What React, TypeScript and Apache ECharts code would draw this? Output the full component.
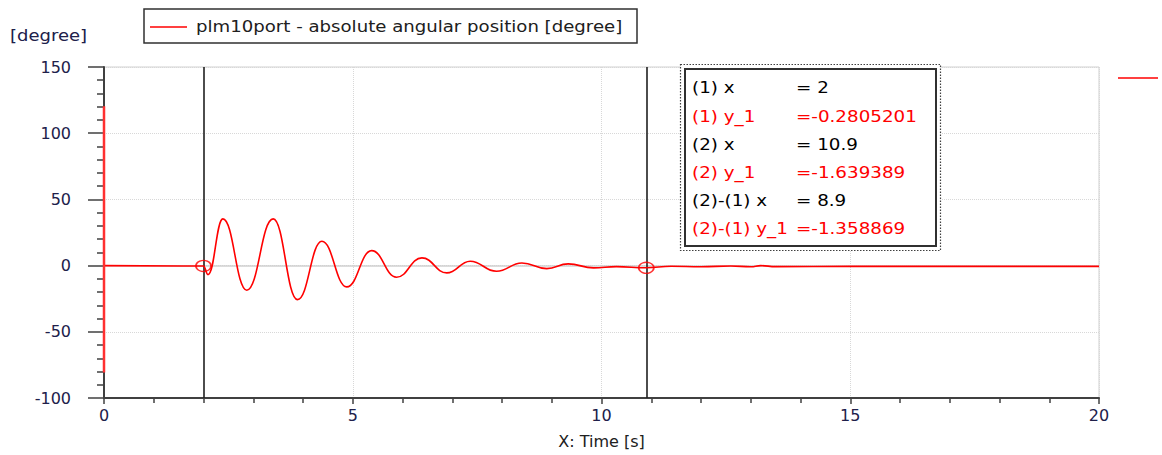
import React, { useEffect, useRef } from "react";
import * as echarts from "echarts";

const SERIES_NAME = "plm10port - absolute angular position [degree]";
const Y_UNIT = "[degree]";
const X_NAME = "X: Time [s]";

// time [s] and angle [degree]
const TIME = [0, 2, 2.09, 2.39, 2.87, 3.4, 3.89, 4.38, 4.88, 5.38, 5.88, 6.39, 6.89, 7.36, 7.89, 8.4, 8.9, 9.33, 9.84, 10.3, 10.9, 11.4, 12.0, 12.6, 13.0, 13.2, 13.5, 15.0, 20.0];
const ANGLE = [0, -0.28, -6.8, 35.3, -18.6, 35.3, -25.7, 18.4, -16.1, 11.3, -8.8, 5.8, -5.5, 3.3, -4.3, 2.0, -2.3, 1.3, -1.7, -0.8, -1.64, -0.5, -0.9, -0.3, -0.9, 0.0, -0.8, -0.6, -0.6];

// initial spike at t = 0 (red segment on the y axis)
const SPIKE_TIME = [0, 0];
const SPIKE_ANGLE = [120.3, -80.8];

// cursors
const CURSOR_X = [2, 10.9];
const CURSOR_Y = [-0.2805201, -1.639389];
const DIFF_X = "8.9";
const DIFF_Y = "-1.358869";

const INFO_LABELS = ["(1) x", "(1) y_1", "(2) x", "(2) y_1", "(2)-(1) x", "(2)-(1) y_1"];
const INFO_VALUES = [
  "= " + CURSOR_X[0],
  "=" + CURSOR_Y[0],
  "= " + CURSOR_X[1],
  "=" + CURSOR_Y[1],
  "= " + DIFF_X,
  "=" + DIFF_Y,
];
const INFO_RED = [false, true, false, true, false, true];

const X_MIN = 0, X_MAX = 20, X_INT = 5;
const Y_MIN = -100, Y_MAX = 150, Y_INT = 50;

const FONT = "DejaVu Sans";
const LABEL_COLOR = "#20204a";

export default function App() {
  const ref = useRef<HTMLDivElement>(null);
  useEffect(() => {
    document.body.style.margin = "0";
    const chart = echarts.init(ref.current!, null, { renderer: "svg" });
    const main = TIME.map((t, i) => [t, ANGLE[i]]);
    const spike = SPIKE_TIME.map((t, i) => [t, SPIKE_ANGLE[i]]);
    const cursors = CURSOR_X.map((x, i) => [x, CURSOR_Y[i]]);

    const infoTexts: any[] = [];
    INFO_LABELS.forEach((lab, i) => {
      const y = 88 + i * 28.2;
      const col = INFO_RED[i] ? "#ff0000" : "#000000";
      infoTexts.push({
        type: "text",
        x: 692,
        y,
        z: 110,
        scaleX: 1.22,
        style: { text: lab, fill: col, font: `15px "${FONT}"`, textVerticalAlign: "middle" },
      });
      infoTexts.push({
        type: "text",
        x: 796,
        y,
        z: 110,
        scaleX: 1.22,
        style: { text: INFO_VALUES[i], fill: col, font: `15px "${FONT}"`, textVerticalAlign: "middle" },
      });
    });

    chart.setOption({
      animation: false,
      backgroundColor: "#ffffff",
      textStyle: { fontFamily: FONT },
      grid: {
        left: 104,
        top: 67,
        right: 63,
        bottom: 57,
        show: true,
        borderColor: "#d0d0d0",
        borderWidth: 1,
        backgroundColor: "transparent",
      },
      xAxis: {
        type: "value",
        min: X_MIN,
        max: X_MAX,
        interval: X_INT,
        name: X_NAME,
        nameLocation: "middle",
        nameGap: 35,
        nameTextStyle: { color: "#202020", fontSize: 16, fontFamily: FONT },
        axisLine: { show: true, onZero: false, lineStyle: { color: "#404040", width: 2 } },
        axisTick: { show: true, length: 6, lineStyle: { color: "#404040", width: 1.5 } },
        minorTick: { show: true, splitNumber: 5, length: 5, lineStyle: { color: "#404040", width: 1.5 } },
        axisLabel: { color: LABEL_COLOR, fontSize: 16, margin: 9, fontFamily: FONT },
        splitLine: { show: true, lineStyle: { color: "#d8d8d8", type: "dotted", width: 1 } },
      },
      yAxis: {
        type: "value",
        min: Y_MIN,
        max: Y_MAX,
        interval: Y_INT,
        axisLine: { show: true, onZero: false, lineStyle: { color: "#404040", width: 2 } },
        axisTick: { show: true, length: 16, lineStyle: { color: "#404040", width: 1.5 } },
        minorTick: { show: true, splitNumber: 5, length: 7, lineStyle: { color: "#404040", width: 1.5 } },
        axisLabel: { color: LABEL_COLOR, fontSize: 16, margin: 33, fontFamily: FONT },
        splitLine: { show: true, lineStyle: { color: "#d8d8d8", type: "dotted", width: 1 } },
      },
      series: [
        {
          name: SERIES_NAME,
          type: "line",
          data: main,
          symbol: "none",
          smooth: 0.45,
          smoothMonotone: "x",
          lineStyle: { color: "#ff0000", width: 1.6 },
          z: 5,
          markLine: {
            silent: true,
            symbol: ["none", "none"],
            label: { show: false },
            data: [
              { yAxis: 0, lineStyle: { color: "#d0d0d0", type: "solid", width: 1.5 } },
              ...CURSOR_X.map((x) => ({ xAxis: x, lineStyle: { color: "#202020", type: "solid", width: 1.6 } })),
            ],
            z: 3,
          },
        },
        {
          name: "spike",
          type: "line",
          data: spike,
          symbol: "none",
          lineStyle: { color: "#ff3030", width: 2.5 },
          z: 6,
        },
        {
          name: "cursors",
          type: "scatter",
          data: cursors,
          symbol: "circle",
          symbolSize: [15, 11],
          itemStyle: { color: "rgba(0,0,0,0)", borderColor: "#ff0000", borderWidth: 1.6 },
          z: 7,
        },
      ],
      graphic: [
        {
          type: "text",
          x: 10,
          y: 36,
          scaleX: 1.2,
          style: { text: Y_UNIT, fill: LABEL_COLOR, font: `15px "${FONT}"`, textVerticalAlign: "middle" },
        },
        {
          type: "rect",
          shape: { x: 144, y: 9, width: 493, height: 34 },
          style: { fill: "#ffffff", stroke: "#303030", lineWidth: 1.5 },
        },
        {
          type: "line",
          shape: { x1: 150, y1: 27, x2: 187, y2: 27 },
          style: { stroke: "#ff0000", lineWidth: 1.5 },
        },
        {
          type: "text",
          x: 196,
          y: 27,
          scaleX: 1.21,
          style: { text: SERIES_NAME, fill: "#202020", font: `15px "${FONT}"`, textVerticalAlign: "middle" },
        },
        {
          type: "line",
          shape: { x1: 1118, y1: 78, x2: 1158, y2: 78 },
          style: { stroke: "#ff0000", lineWidth: 1.5 },
        },
        {
          type: "rect",
          z: 100,
          shape: { x: 680.5, y: 64.5, width: 260, height: 186 },
          style: { fill: "#ffffff", stroke: "#404040", lineWidth: 1.2, lineDash: [1.5, 1.5] },
        },
        {
          type: "rect",
          z: 101,
          shape: { x: 685, y: 69, width: 251, height: 177 },
          style: { fill: "#ffffff", stroke: "#303030", lineWidth: 2 },
        },
        ...infoTexts,
      ],
    });
    return () => chart.dispose();
  }, []);
  return <div ref={ref} style={{ width: 1162, height: 455 }} />;
}
